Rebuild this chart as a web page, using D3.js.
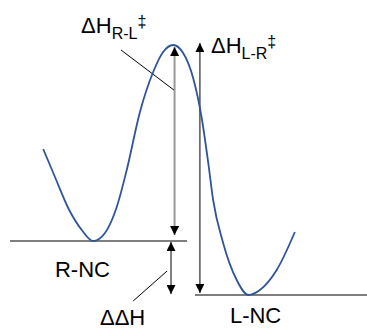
<!DOCTYPE html>
<html>
<head>
<meta charset="utf-8">
<style>
  body { margin: 0; background: #fff; }
  text { font-family: "Liberation Sans", Arial, sans-serif; fill: #000; }
</style>
<script src="https://d3js.org/d3.v7.min.js"></script>
</head>
<body>
<svg width="367" height="329"></svg>
<script>
    // reaction coordinate (0-100) and enthalpy (arbitrary units, L-NC = 0)
    var curveX = [9.3, 12.6, 16.3, 20.1, 23.3, 26.6, 29.9, 32.7, 36.4, 40.1, 42.9, 45.7,
                  48.5, 51.3, 53.7, 55.5, 56.9, 59.7, 63.5, 66.8, 70.0, 74.7, 79.8];
    var curveH = [146, 118, 87, 65, 54, 62, 88, 125, 183, 223, 243, 250,
                  242, 217, 177, 133, 95, 52, 15, 0, 5, 25, 63];

    // energy levels
    var levelNames = ["R-NC", "L-NC"];
    var levelStart = [0, 51.8];
    var levelEnd = [49.6, 100];
    var levelH = [54, 0];

    // double arrows: x, H from, H to
    var arrowNames = ["dHRL", "dHLR", "ddH"];
    var arrowX = [46.1, 53.2, 45.1];
    var arrowFrom = [60, 2, 1];
    var arrowTo = [248, 252, 53];
    var arrowColor = ["#9a9a9a", "#000", "#000"];
    var arrowWidth = [2, 1, 1];

    var svg = d3.select("svg");
    var x = d3.scaleLinear().domain([0, 100]).range([10, 367]);
    var y = d3.scaleLinear().domain([0, 250]).range([295, 45]);

    var curveData = curveX.map(function (d, i) { return { x: d, h: curveH[i] }; });

    // levels
    svg.selectAll(".level")
        .data(levelNames)
        .enter().append("line")
        .attr("class", "level")
        .attr("x1", function (d, i) { return x(levelStart[i]); })
        .attr("x2", function (d, i) { return x(levelEnd[i]); })
        .attr("y1", function (d, i) { return y(levelH[i]); })
        .attr("y2", function (d, i) { return y(levelH[i]); })
        .attr("stroke", "#7f7f7f")
        .attr("stroke-width", 2);

    // arrows
    svg.append("defs").append("marker")
        .attr("id", "head")
        .attr("viewBox", "0 0 10 10")
        .attr("refX", 10).attr("refY", 5)
        .attr("markerUnits", "userSpaceOnUse")
        .attr("markerWidth", 9).attr("markerHeight", 9)
        .attr("orient", "auto-start-reverse")
        .append("path")
        .attr("d", "M0,0 L10,5 L0,10 Z")
        .attr("fill", "#000");

    svg.selectAll(".arrow")
        .data(arrowNames)
        .enter().append("line")
        .attr("class", "arrow")
        .attr("x1", function (d, i) { return x(arrowX[i]); })
        .attr("x2", function (d, i) { return x(arrowX[i]); })
        .attr("y1", function (d, i) { return y(arrowFrom[i]); })
        .attr("y2", function (d, i) { return y(arrowTo[i]); })
        .attr("stroke", function (d, i) { return arrowColor[i]; })
        .attr("stroke-width", function (d, i) { return arrowWidth[i]; })
        .attr("marker-start", "url(#head)")
        .attr("marker-end", "url(#head)");

    // leader lines
    var leaders = [[31.1, 245, 45.9, 205], [34.5, -6, 44.0, 24]];
    svg.selectAll(".leader")
        .data(leaders)
        .enter().append("line")
        .attr("class", "leader")
        .attr("x1", function (d) { return x(d[0]); })
        .attr("y1", function (d) { return y(d[1]); })
        .attr("x2", function (d) { return x(d[2]); })
        .attr("y2", function (d) { return y(d[3]); })
        .attr("stroke", "#000")
        .attr("stroke-width", 1);

    // potential curve
    svg.append("path")
        .datum(curveData)
        .attr("fill", "none")
        .attr("stroke", "#2f5597")
        .attr("stroke-width", 1.8)
        .attr("d", d3.line()
            .x(function (d) { return x(d.x); })
            .y(function (d) { return y(d.h); })
            .curve(d3.curveMonotoneX));

    // labels
    function deltaLabel(xv, hv, sub) {
        var t = svg.append("text")
            .attr("x", x(xv))
            .attr("y", y(hv))
            .attr("font-size", "22px");
        t.append("tspan").text("\u0394H");
        t.append("tspan").attr("font-size", "16px").attr("dy", 6).text(sub);
        t.append("tspan").attr("font-size", "16px").attr("dy", -12).text("\u2021");
    }
    deltaLabel(19.9, 262, "R-L");
    deltaLabel(56.3, 242, "L-R");

    svg.append("text").attr("x", x(12.6)).attr("y", y(18)).attr("font-size", "22px").text("R-NC");
    svg.append("text").attr("x", x(61.6)).attr("y", y(-28)).attr("font-size", "22px").text("L-NC");
    svg.append("text").attr("x", x(25.2)).attr("y", y(-30)).attr("font-size", "22px").text("\u0394\u0394H");
</script>
</body>
</html>
